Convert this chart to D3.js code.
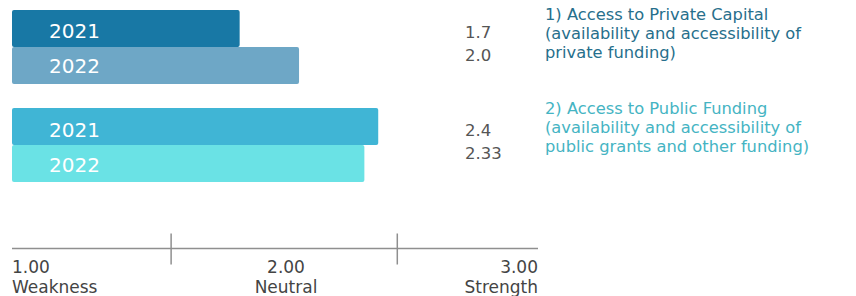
<!DOCTYPE html>
<html lang="en">
<head>
<meta charset="UTF-8">
<title>Access to funding</title>
<script src="https://d3js.org/d3.v7.min.js"></script>
<style>
    body { margin: 0; background: #fff; }
    svg { display: block; font-family: "DejaVu Sans", sans-serif; }
</style>
</head>
<body>
<svg width="856" height="296" class="chart"></svg>
<script>
    // data
    var categories = ["1) Access to Private Capital|(availability and accessibility of|private funding)",
                      "2) Access to Public Funding|(availability and accessibility of|public grants and other funding)"];
    var years = ["2021", "2022"];
    var values2021 = [1.7, 2.4];
    var values2022 = [2.0, 2.33];
    var valueLabels2021 = ["1.7", "2.4"];
    var valueLabels2022 = ["2.0", "2.33"];
    var axisTicks = [1, 2, 3];
    var axisTickLabels = ["1.00", "2.00", "3.00"];
    var axisTickNames = ["Weakness", "Neutral", "Strength"];
    var dividers = [1.605, 2.465];

    var barColors = [["#1878a5", "#6ea7c6"], ["#40b5d5", "#6ae2e5"]];
    var titleColors = ["#276f8c", "#45b4c3"];

    var svg = d3.select("svg.chart");

    // the scale printed on the axis
    var xAxis = d3.scaleLinear().domain([1, 3]).range([12, 538]);
    // bars in the original do not quite follow the axis, so they get their own scale
    var xBar = d3.scaleLinear().domain([0.55, 3]).range([12, 497]);

    var groupY = d3.scaleBand().domain(d3.range(categories.length)).range([10, 182]).paddingInner(0.245);
    var yearY = d3.scaleBand().domain(years).range([0, groupY.bandwidth()]);

    var rows = [];
    categories.forEach(function (c, i) {
        rows.push({cat: i, year: "2021", v: values2021[i], label: valueLabels2021[i]});
        rows.push({cat: i, year: "2022", v: values2022[i], label: valueLabels2022[i]});
    });

    var g = svg.append("g");

    g.selectAll(".bar")
        .data(rows)
        .enter().append("rect")
        .attr("class", "bar")
        .attr("x", xBar.range()[0])
        .attr("y", function (d) { return groupY(d.cat) + yearY(d.year); })
        .attr("width", function (d) { return xBar(d.v) - xBar.range()[0]; })
        .attr("height", yearY.bandwidth())
        .attr("rx", 2)
        .attr("fill", function (d) { return barColors[d.cat][years.indexOf(d.year)]; });

    g.selectAll(".year")
        .data(rows)
        .enter().append("text")
        .attr("class", "year")
        .attr("x", 49)
        .attr("y", function (d) { return groupY(d.cat) + yearY(d.year) + yearY.bandwidth() / 2; })
        .attr("dy", function (d) { return d.year === "2021" ? 10 : 8; })
        .attr("fill", "#fff")
        .attr("font-size", "20px")
        .text(function (d) { return d.year; });

    // value labels sit closer together than the bars
    g.selectAll(".value")
        .data(rows)
        .enter().append("text")
        .attr("class", "value")
        .attr("x", 465)
        .attr("y", function (d) { return groupY(d.cat) + (d.year === "2021" ? 28 : 50.5); })
        .attr("fill", "#555")
        .attr("font-size", "16.5px")
        .text(function (d) { return d.label; });

    // category titles
    var titleOffsets = [10, 6];
    categories.forEach(function (c, i) {
        var t = svg.append("text")
            .attr("x", 545)
            .attr("y", groupY(i) + titleOffsets[i])
            .attr("fill", titleColors[i])
            .attr("font-size", "16.3px");
        c.split("|").forEach(function (line, k) {
            t.append("tspan")
                .attr("x", 545)
                .attr("dy", k === 0 ? 0 : 19)
                .text(line);
        });
    });

    // axis
    var axisY = 248.5;
    var ax = svg.append("g");
    ax.append("line")
        .attr("x1", xAxis.range()[0]).attr("x2", xAxis.range()[1])
        .attr("y1", axisY).attr("y2", axisY)
        .attr("stroke", "#8f8f8f").attr("stroke-width", 1.6);
    ax.selectAll(".divider")
        .data(dividers)
        .enter().append("line")
        .attr("class", "divider")
        .attr("x1", function (d) { return xAxis(d); })
        .attr("x2", function (d) { return xAxis(d); })
        .attr("y1", axisY - 15).attr("y2", axisY + 16)
        .attr("stroke", "#8f8f8f").attr("stroke-width", 1.5);

    // the middle label is set a little right of the 2.00 point in the original
    var anchors = ["start", "middle", "end"];
    var labelX = function (d) { return xAxis(d) + (d === 2 ? 11 : 0); };
    ax.selectAll(".tickval")
        .data(axisTicks)
        .enter().append("text")
        .attr("class", "tickval")
        .attr("x", labelX)
        .attr("y", 273)
        .attr("text-anchor", function (d, i) { return anchors[i]; })
        .attr("fill", "#444")
        .attr("font-size", "17px")
        .text(function (d, i) { return axisTickLabels[i]; });
    ax.selectAll(".tickname")
        .data(axisTicks)
        .enter().append("text")
        .attr("class", "tickname")
        .attr("x", labelX)
        .attr("y", 293)
        .attr("text-anchor", function (d, i) { return anchors[i]; })
        .attr("fill", "#444")
        .attr("font-size", "17px")
        .text(function (d, i) { return axisTickNames[i]; });
</script>
</body>
</html>
